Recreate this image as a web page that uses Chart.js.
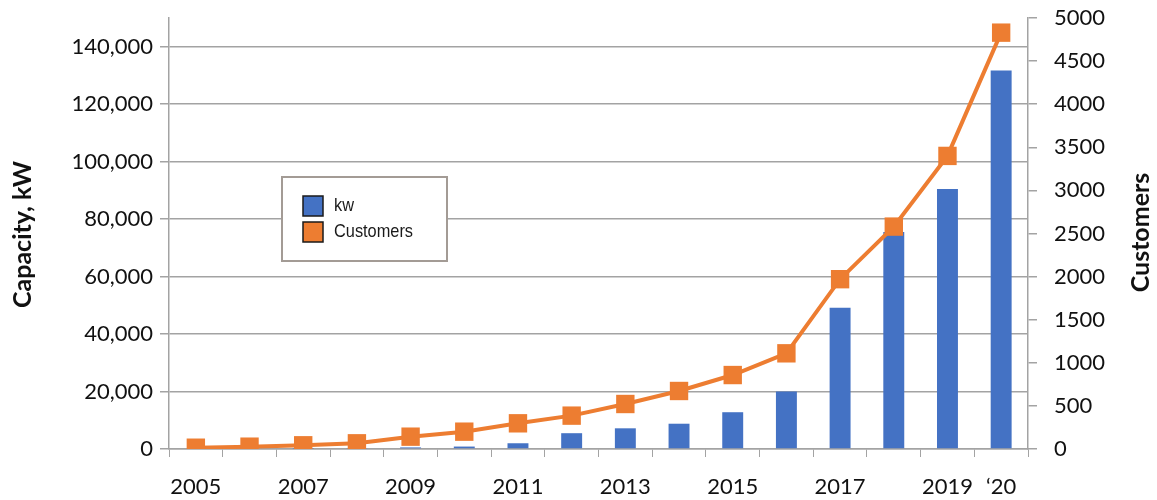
<!DOCTYPE html>
<html>
<head>
<meta charset="utf-8">
<title>Capacity and customers, 2005–2020</title>
<script src="https://cdn.jsdelivr.net/npm/chart.js@4/dist/chart.umd.min.js"></script>
<style>
  html, body { margin: 0; padding: 0; background: #ffffff; }
  #wrap { width: 1157px; height: 500px; position: relative; }
</style>
</head>
<body>
<div id="wrap"><canvas id="chart" width="1157" height="500"></canvas></div>
<script>
// Years on the category axis
const years = ['2005', '2006', '2007', '2008', '2009', '2010', '2011', '2012',
               '2013', '2014', '2015', '2016', '2017', '2018', '2019', '‘20'];
// Installed capacity, kW (bars, left axis)
const capacityKw = [0, 0, 100, 200, 550, 850, 2000, 5500,
                    7200, 8800, 12800, 20000, 49200, 75500, 90500, 131700];
// Number of customers (line, right axis)
const customers = [15, 27, 43, 66, 143, 201, 298, 387,
                   522, 673, 858, 1110, 1970, 2580, 3400, 4830];
// Year labels that are printed under the axis
const shownYearLabels = ['2005', '2007', '2009', '2011', '2013', '2015', '2017', '2019', '‘20'];
// Tick values of the two value axes
const kwTicks = [0, 20000, 40000, 60000, 80000, 100000, 120000, 140000];
const customerTicks = [0, 500, 1000, 1500, 2000, 2500, 3000, 3500, 4000, 4500, 5000];

const BLUE = '#4472C4';
const ORANGE = '#ED7D31';
const GRID = '#a3a3a3';
const TEXT = '#111111';
const TICK_FONT = { family: 'Lato, "Noto Sans", sans-serif', size: 22 };
const TITLE_FONT = 'bold 25px Lato, "Noto Sans", sans-serif';

// Axis titles and the boxed legend are painted on the canvas
const decorations = {
  id: 'decorations',
  afterDraw(chart) {
    const ctx = chart.ctx;
    const area = chart.chartArea;
    const midY = (area.top + area.bottom) / 2;
    ctx.save();
    ctx.fillStyle = TEXT;
    ctx.font = TITLE_FONT;
    ctx.textAlign = 'center';
    ctx.textBaseline = 'middle';
    ctx.translate(23, midY + 1);
    ctx.rotate(-Math.PI / 2);
    ctx.fillText('Capacity, kW', 0, 0);
    ctx.restore();

    ctx.save();
    ctx.fillStyle = TEXT;
    ctx.font = TITLE_FONT;
    ctx.textAlign = 'center';
    ctx.textBaseline = 'middle';
    ctx.translate(1141, midY - 1);
    ctx.rotate(-Math.PI / 2);
    ctx.fillText('Customers', 0, 0);
    ctx.restore();

    // legend box
    const bx = 282, by = 177, bw = 165, bh = 84;
    ctx.save();
    ctx.fillStyle = '#ffffff';
    ctx.fillRect(bx, by, bw, bh);
    ctx.strokeStyle = '#a39b95';
    ctx.lineWidth = 2;
    ctx.strokeRect(bx, by, bw, bh);
    chart.data.datasets.slice().sort((a, b) => a.legendRank - b.legendRank).forEach((ds, i) => {
      const sy = by + 19 + i * 26;
      ctx.fillStyle = ds.legendColor;
      ctx.fillRect(bx + 21, sy, 20, 20);
      ctx.strokeStyle = '#1a1a1a';
      ctx.lineWidth = 1.5;
      ctx.strokeRect(bx + 21, sy, 20, 20);
      // narrow lettering for the legend entries
      ctx.save();
      ctx.translate(bx + 52, sy + 10);
      ctx.scale(0.86, 1);
      ctx.font = '19px "Liberation Sans", Arial, sans-serif';
      ctx.textAlign = 'left';
      ctx.textBaseline = 'middle';
      ctx.fillStyle = '#1a1a1a';
      ctx.fillText(ds.label, 0, 0);
      ctx.restore();
    });
    ctx.restore();
  }
};

// value axes keep their plot edge fixed; label overflow is absorbed by the layout padding
function fixVerticalScale(width) {
  return function (scale) {
    scale.width = width;
    scale.paddingTop = 0;
    scale.paddingBottom = 0;
  };
}

new Chart(document.getElementById('chart'), {
  data: {
    labels: years,
    datasets: [
      {
        type: 'line',
        label: 'Customers',
        legendRank: 1,
        legendColor: ORANGE,
        data: customers,
        yAxisID: 'yCust',
        borderColor: ORANGE,
        backgroundColor: ORANGE,
        borderWidth: 4,
        pointStyle: 'rect',
        pointRadius: 13,
        pointHoverRadius: 13,
        pointBorderWidth: 0,
        tension: 0,
        order: 0
      },
      {
        type: 'bar',
        label: 'kw',
        legendRank: 0,
        legendColor: BLUE,
        data: capacityKw,
        yAxisID: 'yKw',
        backgroundColor: BLUE,
        borderWidth: 0,
        barPercentage: 0.39,
        categoryPercentage: 1,
        order: 1
      }
    ]
  },
  options: {
    responsive: false,
    animation: false,
    devicePixelRatio: 1,
    layout: { padding: { top: 18, left: 0, right: 0, bottom: 0 } },
    plugins: {
      legend: { display: false },
      tooltip: { enabled: false }
    },
    scales: {
      x: {
        type: 'category',
        offset: true,
        grid: { display: true, drawOnChartArea: false, drawTicks: true, tickLength: 8, color: GRID, offset: true },
        border: { display: true, color: GRID, width: 1.5 },
        ticks: {
          autoSkip: false,
          maxRotation: 0,
          minRotation: 0,
          color: TEXT,
          font: TICK_FONT,
          padding: 17,
          callback: function (value, index) {
            const lbl = years[index];
            return shownYearLabels.includes(lbl) ? lbl : '';
          }
        },
        afterFit(scale) { scale.height = 51; }
      },
      yKw: {
        type: 'linear',
        position: 'left',
        min: 0,
        max: 150000,
        grid: { color: GRID, lineWidth: 1.5, drawTicks: true, tickLength: 9 },
        border: { display: true, color: GRID, width: 1.5 },
        ticks: {
          color: TEXT,
          font: TICK_FONT,
          padding: 7,
          callback: (v) => v.toLocaleString('en-US')
        },
        afterBuildTicks(scale) {
          scale.ticks = kwTicks.map(v => ({ value: v }));
        },
        afterFit: fixVerticalScale(169)
      },
      yCust: {
        type: 'linear',
        position: 'right',
        min: 0,
        max: 5000,
        grid: { drawOnChartArea: false, drawTicks: true, tickLength: 9, color: GRID, lineWidth: 1.5 },
        border: { display: true, color: GRID, width: 1.5 },
        ticks: {
          color: TEXT,
          font: TICK_FONT,
          padding: 17,
          callback: (v) => String(v)
        },
        afterBuildTicks(scale) {
          scale.ticks = customerTicks.map(v => ({ value: v }));
        },
        afterFit: fixVerticalScale(129)
      }
    }
  },
  plugins: [decorations]
});
</script>
</body>
</html>
